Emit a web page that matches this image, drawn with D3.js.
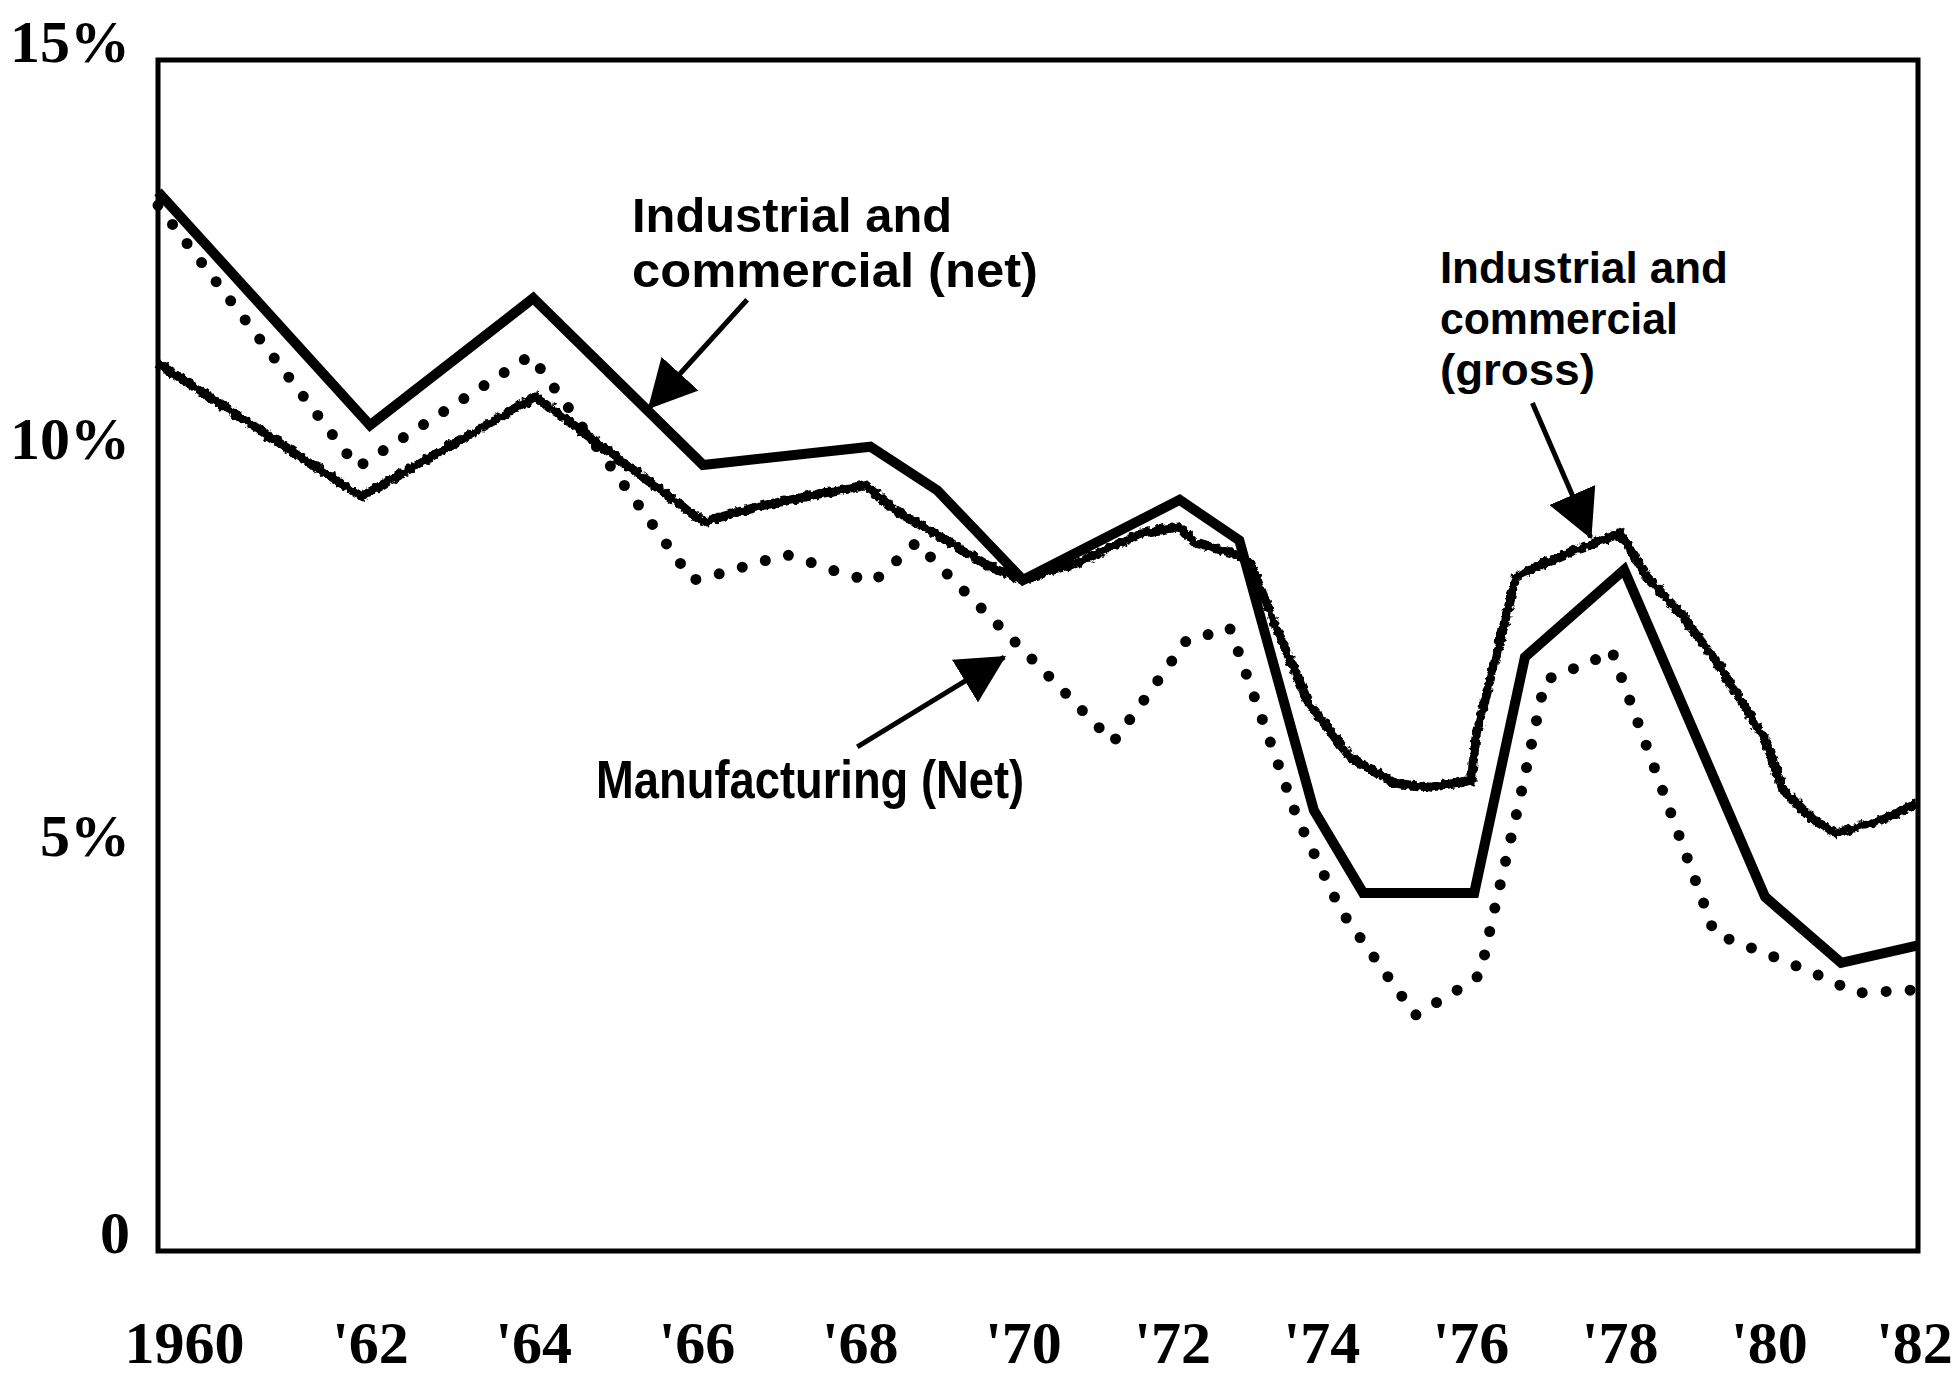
<!DOCTYPE html>
<html>
<head>
<meta charset="utf-8">
<script src="https://d3js.org/d3.v7.min.js"></script>
<style>
body, html {
    margin: 0;
    padding: 0;
    background: #fff;
}
.tick text {
    font-family: "Liberation Serif", "DejaVu Serif", serif;
    font-weight: bold;
    font-size: 60px;
    fill: #000;
}
.note {
    font-family: "Liberation Sans", Arial, sans-serif;
    font-weight: bold;
    fill: #000;
}
.frame {
  fill: none;
  stroke: #000;
  stroke-width: 5;
}
.line {
  fill: none;
  stroke: #000;
  stroke-linejoin: miter;
  stroke-miterlimit: 10;
}
</style>
</head>

<body>
<div id="chart"></div>
<script>

// values (year, % )
var netYears = [1960, 1962, 1964, 1966.08, 1968.13, 1968.95, 1970, 1972.1, 1972.9, 1973.9, 1974.56, 1976.05, 1976.73, 1978.06, 1979.95, 1980.97, 1982];
var netValues = [13.34, 10.40, 12.0, 9.9, 10.13, 9.58, 8.45, 9.46, 8.95, 5.55, 4.51, 4.51, 7.48, 8.58, 4.46, 3.63, 3.85];

var grossYears = [1960, 1961.92, 1964.03, 1966.08, 1966.73, 1967.72, 1968.07, 1968.43, 1969.05, 1969.61, 1970, 1970.81, 1971.57, 1972.1, 1972.3, 1972.81, 1973.05, 1973.41, 1973.83, 1974.38, 1974.99, 1975.47, 1976.01, 1976.08, 1976.34, 1976.61, 1976.98, 1977.41, 1978.01, 1978.37, 1978.86, 1979.34, 1979.95, 1980.19, 1980.6, 1980.9, 1981.51, 1982];
var grossValues = [11.18, 9.50, 10.76, 9.18, 9.37, 9.58, 9.65, 9.33, 8.96, 8.61, 8.45, 8.70, 9.04, 9.12, 8.92, 8.79, 8.66, 7.82, 6.90, 6.22, 5.89, 5.84, 5.93, 6.52, 7.48, 8.49, 8.66, 8.83, 9.04, 8.49, 7.98, 7.36, 6.44, 5.81, 5.43, 5.26, 5.43, 5.64];

var mfgYears = [1960, 1961.88, 1963.97, 1965.95, 1966.15, 1967.09, 1967.26, 1967.55, 1968.15, 1968.26, 1968.7, 1968.92, 1969.35, 1970, 1971.21, 1971.6, 1972.2, 1972.47, 1972.77, 1972.89, 1973.67, 1974.26, 1975.26, 1975.83, 1976.13, 1976.34, 1976.65, 1977.0, 1977.34, 1977.61, 1977.89, 1979.15, 1979.27, 1979.95, 1980.58, 1981.18, 1982];
var mfgValues = [13.17, 9.87, 11.28, 8.45, 8.49, 8.77, 8.73, 8.61, 8.43, 8.51, 8.93, 8.68, 8.24, 7.57, 6.41, 6.91, 7.70, 7.76, 7.85, 7.54, 5.47, 4.29, 2.97, 3.29, 3.48, 4.38, 5.64, 7.19, 7.32, 7.41, 7.57, 4.32, 4.00, 3.75, 3.51, 3.25, 3.29];

var xTickYears = [1960, 1962, 1964, 1966, 1968, 1970, 1972, 1974, 1976, 1978, 1980, 1982];
var yTickValues = [0, 5, 10, 15];

var noteNet = ["Industrial and", "commercial (net)"];
var noteGross = ["Industrial and", "commercial", "(gross)"];
var noteMfg = ["Manufacturing (Net)"];

var width = 1955,
    height = 1378;

var svg = d3.select('#chart').append('svg')
    .attr('width', width)
    .attr('height', height);

// the printed time axis is not evenly spaced, so the scale has breakpoints
var x = d3.scaleLinear()
    .domain([1960, 1962, 1970, 1982])
    .range([158, 370, 1023, 1918]);

var y = d3.scaleLinear()
    .domain([0, 15])
    .range([1251, 60]);

var defs = svg.append('defs');

// rough edge for the gross line
var rough = defs.append('filter')
    .attr('id', 'rough')
    .attr('x', '-3%').attr('y', '-6%')
    .attr('width', '106%').attr('height', '112%');
rough.append('feTurbulence')
    .attr('type', 'fractalNoise')
    .attr('baseFrequency', 0.18)
    .attr('numOctaves', 2)
    .attr('seed', 4)
    .attr('result', 'noise');
rough.append('feDisplacementMap')
    .attr('in', 'SourceGraphic')
    .attr('in2', 'noise')
    .attr('scale', 7)
    .attr('xChannelSelector', 'R')
    .attr('yChannelSelector', 'G');

defs.append('marker')
    .attr('id', 'head')
    .attr('markerUnits', 'userSpaceOnUse')
    .attr('viewBox', '0 -25 48 50')
    .attr('markerWidth', 48)
    .attr('markerHeight', 50)
    .attr('refX', 46)
    .attr('refY', 0)
    .attr('orient', 'auto')
  .append('path')
    .attr('d', 'M0,-25L48,0L0,25Z')
    .attr('fill', '#000');

// frame
svg.append('rect')
    .attr('class', 'frame')
    .attr('x', x(1960))
    .attr('y', y(15))
    .attr('width', x(1982) - x(1960))
    .attr('height', y(0) - y(15));

// axes
var yAxis = d3.axisLeft(y)
    .tickValues(yTickValues)
    .tickSize(0)
    .tickPadding(28)
    .tickFormat(function (d) { return d === 0 ? '0' : d + '%'; });

var gy = svg.append('g')
    .attr('transform', 'translate(' + x(1960) + ',0)')
    .call(yAxis);
gy.select('.domain').remove();
gy.selectAll('.tick text').attr('dy', '0.02em');

var xAxis = d3.axisBottom(x)
    .tickValues(xTickYears)
    .tickSize(0)
    .tickPadding(69)
    .tickFormat(function (d) { return d === 1960 ? '1960' : "'" + String(d).slice(2); });

var gx = svg.append('g')
    .attr('transform', 'translate(0,' + y(0) + ')')
    .call(xAxis);
gx.select('.domain').remove();
gx.selectAll('.tick text')
    .attr('dx', function (d) { return d === 1960 ? 26 : (d === 1982 ? -4 : 0); });

// lines
var line = d3.line()
    .x(function (d) { return x(d[0]); })
    .y(function (d) { return y(d[1]); });

svg.append('path')
    .datum(d3.zip(mfgYears, mfgValues))
    .attr('class', 'line')
    .attr('stroke-width', 11)
    .attr('stroke-linecap', 'round')
    .attr('stroke-dasharray', '0 24')
    .attr('d', line);

svg.append('path')
    .datum(d3.zip(grossYears, grossValues))
    .attr('class', 'line')
    .attr('stroke-width', 9)
    .attr('filter', 'url(#rough)')
    .attr('d', line);

svg.append('path')
    .datum(d3.zip(netYears, netValues))
    .attr('class', 'line')
    .attr('stroke-width', 10)
    .attr('d', line);

// annotations, one text per printed line
function note(lines, yr, val, size, gap, lengths) {
  lines.forEach(function (s, i) {
    svg.append('text')
      .attr('class', 'note')
      .attr('font-size', size)
      .attr('x', x(yr))
      .attr('y', y(val) + i * gap)
      .attr('textLength', lengths[i])
      .attr('lengthAdjust', 'spacingAndGlyphs')
      .text(s);
  });
}

function arrow(y0, v0, y1, v1) {
  svg.append('line')
      .attr('x1', x(y0)).attr('y1', y(v0))
      .attr('x2', x(y1)).attr('y2', y(v1))
      .attr('stroke', '#000')
      .attr('stroke-width', 5)
      .attr('marker-end', 'url(#head)');
}

note(noteNet, 1965.21, 12.84, 49, 55, [320, 406]);
arrow(1966.62, 11.98, 1965.42, 10.62);

note(noteGross, 1975.59, 12.19, 45, 51, [288, 238, 155]);
arrow(1976.83, 10.68, 1977.61, 8.99);

note(noteMfg, 1964.77, 5.71, 53, 0, [428]);
arrow(1967.97, 6.35, 1969.77, 7.48);

</script>

</body>

</html>
